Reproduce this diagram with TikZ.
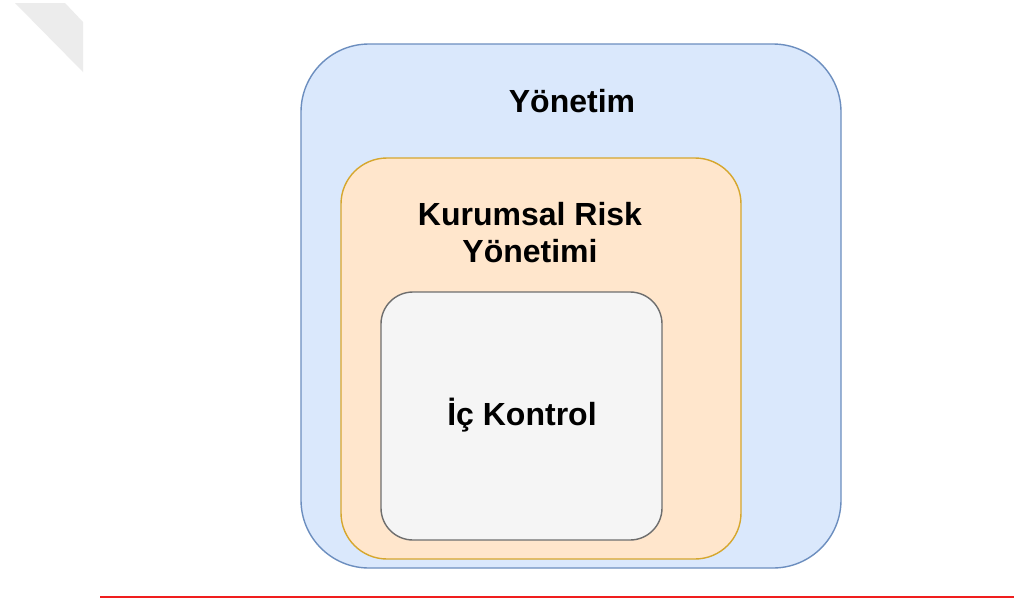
\documentclass[tikz,border=0pt]{standalone}
\usepackage{fontspec}
\setmainfont{Liberation Sans}
\begin{document}
\begin{tikzpicture}[x=1pt,y=-1pt,
  layer/.style={draw, rectangle, line width=1.4pt, inner sep=0pt},
  scope1/.style={layer, fill=layerblue, draw=edgeblue, rounded corners=68pt},
  scope2/.style={layer, fill=layerorange, draw=edgeorange, rounded corners=46pt},
  scope3/.style={layer, fill=layergrey, draw=edgegrey, rounded corners=32pt},
  caption/.style={inner sep=0pt, font=\fontsize{32}{37}\selectfont\bfseries, align=center}]
\definecolor{layerblue}{HTML}{DAE8FC}
\definecolor{edgeblue}{HTML}{6C8EBF}
\definecolor{layerorange}{HTML}{FFE6CC}
\definecolor{edgeorange}{HTML}{D6A72E}
\definecolor{layergrey}{HTML}{F5F5F5}
\definecolor{edgegrey}{HTML}{6E6E6E}
\definecolor{rule}{HTML}{F01E1E}
\definecolor{fold}{HTML}{ECECEC}
\useasboundingbox (0,0) rectangle (1014,598);
\fill[white] (0,0) rectangle (1014,598);
% folded corner mark, top left
\fill[fold] (15,3) -- (65,3) -- (83,22) -- (83,72) -- cycle;
% nested scopes
\node[scope1, minimum width=540pt, minimum height=524pt] (gov) at (571,306) {};
\node[scope2, minimum width=400pt, minimum height=401pt] (erm) at (541,358.5) {};
\node[scope3, minimum width=281pt, minimum height=248pt] (ic) at (521.5,416) {};
% captions (base anchor of a two-line caption sits on its last line)
\node[caption, anchor=base] (govlbl) at (572,112) {Yönetim};
\node[caption, anchor=base] (ermlbl) at (530,262) {Kurumsal Risk\\Yönetimi};
\node[caption, anchor=base] (iclbl) at (522,425) {İç Kontrol};
% bottom rule
\coordinate (ruleL) at (100,596.7);
\coordinate (ruleR) at (1014,596.7);
\draw[rule, line width=1.8pt] (ruleL) -- (ruleR);
\end{tikzpicture}
\end{document}
